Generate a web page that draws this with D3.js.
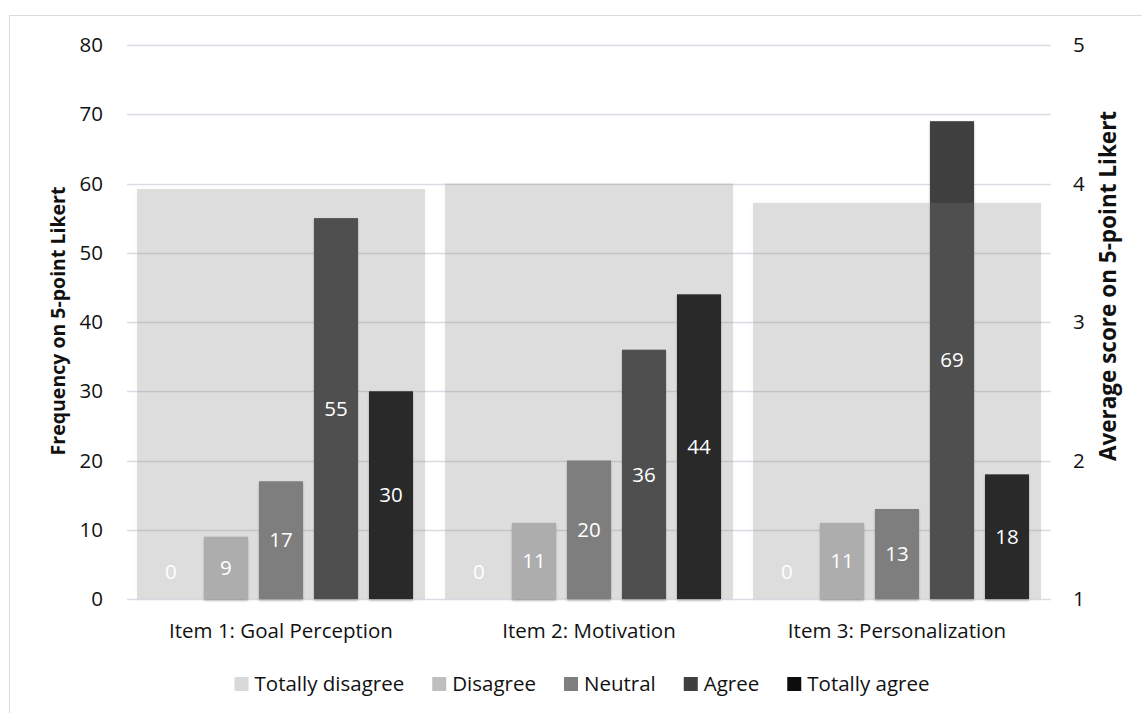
<!DOCTYPE html>
<html>
<head>
<meta charset="utf-8">
<script src="https://cdn.jsdelivr.net/npm/d3@7"></script>
<style>
  body { margin: 0; background: #fff; }
  text { font-family: "Open Sans", "Noto Sans", sans-serif; }
</style>
</head>
<body>
<svg id="chart" width="1142" height="713"></svg>
<script>
// data
const items = ["Item 1: Goal Perception", "Item 2: Motivation", "Item 3: Personalization"]
const levels = ["Totally disagree", "Disagree", "Neutral", "Agree", "Totally agree"]
const totallyDisagree = [0, 0, 0]
const disagree = [9, 11, 11]
const neutral = [17, 20, 13]
const agree = [55, 36, 69]
const totallyAgree = [30, 44, 18]
const averageScore = [3.96, 4.00, 3.86]
const freqTicks = [0, 10, 20, 30, 40, 50, 60, 70, 80]
const scoreTicks = [1, 2, 3, 4, 5]

const levelColors = ["#d9d9d9", "#bfbfbf", "#7f7f7f", "#404040", "#0d0d0d"]
const seriesValues = [totallyDisagree, disagree, neutral, agree, totallyAgree]

const svg = d3.select("#chart")
const plotLeft = 127, plotRight = 1051, plotTop = 45, plotBottom = 599
const fontSize = 20.5

// drop shadows
const defs = svg.append("defs")
defs.append("filter").attr("id", "barShadow")
    .attr("x", "-20%").attr("y", "-20%").attr("width", "140%").attr("height", "140%")
  .append("feDropShadow")
    .attr("dx", 0).attr("dy", 1.5).attr("stdDeviation", 1)
    .attr("flood-color", "#000").attr("flood-opacity", 0.3)
defs.append("filter").attr("id", "areaShadow")
    .attr("x", "-10%").attr("y", "-10%").attr("width", "120%").attr("height", "120%")
  .append("feDropShadow")
    .attr("dx", 0).attr("dy", 0).attr("stdDeviation", 2)
    .attr("flood-color", "#000").attr("flood-opacity", 0.12)

// chart frame
svg.append("rect")
    .attr("x", 9.5).attr("y", 15.5)
    .attr("width", 1300).attr("height", 900)
    .attr("fill", "none").attr("stroke", "#d9dde3")

const x0 = d3.scaleBand().domain(items).range([plotLeft, plotRight])
    .paddingInner(0.065).paddingOuter(0.0325)
const groupPad = (x0.bandwidth() - 275) / 2
const x1 = d3.scaleBand().domain(levels).range([groupPad, x0.bandwidth() - groupPad])
    .paddingInner(0.2).paddingOuter(0.1)
const y = d3.scaleLinear().domain([0, 80]).range([plotBottom, plotTop])
const y2 = d3.scaleLinear().domain([1, 5]).range([plotBottom, plotTop])

// gridlines
svg.append("g").selectAll("line")
  .data(freqTicks)
  .join("line")
    .attr("x1", plotLeft).attr("x2", plotRight)
    .attr("y1", d => Math.round(y(d)) + 0.5).attr("y2", d => Math.round(y(d)) + 0.5)
    .attr("stroke", "#d9dde3").attr("stroke-width", 1.5)

// left axis labels
const yAxis = svg.append("g")
    .attr("transform", `translate(${plotLeft - 24},0)`)
    .call(d3.axisLeft(y).tickValues(freqTicks).tickSize(0).tickPadding(0))
yAxis.select(".domain").remove()
yAxis.selectAll("text").attr("font-size", fontSize).attr("fill", "#111")
    .attr("font-family", "Open Sans")

// right axis labels
const y2Axis = svg.append("g")
    .attr("transform", `translate(${plotRight + 22},0)`)
    .call(d3.axisRight(y2).tickValues(scoreTicks).tickFormat(d3.format("d")).tickSize(0).tickPadding(0))
y2Axis.select(".domain").remove()
y2Axis.selectAll("text").attr("font-size", fontSize).attr("fill", "#111")
    .attr("font-family", "Open Sans")

// bars
const rows = items.map((item, i) => ({
  item,
  values: levels.map((level, j) => ({ item, level, value: seriesValues[j][i], color: levelColors[j] }))
}))

svg.append("g").selectAll("g")
  .data(rows)
  .join("g")
    .attr("transform", d => `translate(${x0(d.item)},0)`)
  .selectAll("rect")
  .data(d => d.values.filter(v => v.value > 0))
  .join("rect")
    .attr("x", d => x1(d.level))
    .attr("y", d => y(d.value))
    .attr("width", x1.bandwidth())
    .attr("height", d => y(0) - y(d.value))
    .attr("fill", d => d.color)
    .attr("filter", "url(#barShadow)")

// average score areas (secondary axis), translucent over the bars
svg.append("g").selectAll("rect")
  .data(items)
  .join("rect")
    .attr("x", d => x0(d))
    .attr("y", (d, i) => y2(averageScore[i]))
    .attr("width", x0.bandwidth())
    .attr("height", (d, i) => y2(1) - y2(averageScore[i]))
    .attr("fill", "#7f7f7f")
    .attr("fill-opacity", 0.24)
    .attr("filter", "url(#areaShadow)")

// data labels, drawn on top of everything
svg.append("g").selectAll("g")
  .data(rows)
  .join("g")
    .attr("transform", d => `translate(${x0(d.item)},0)`)
  .selectAll("text")
  .data(d => d.values)
  .join("text")
    .attr("x", d => x1(d.level) + x1.bandwidth() / 2)
    .attr("y", d => Math.min((y(d.value) + y(0)) / 2, y(0) - 27))
    .attr("dy", "0.35em")
    .attr("text-anchor", "middle")
    .attr("font-size", fontSize)
    .attr("fill", "#fff")
    .text(d => d.value)

// category labels
svg.append("g").selectAll("text")
  .data(items)
  .join("text")
    .attr("x", d => x0(d) + x0.bandwidth() / 2)
    .attr("y", 638)
    .attr("text-anchor", "middle")
    .attr("font-size", fontSize)
    .attr("fill", "#111")
    .text(d => d)

// axis titles
svg.append("text")
    .attr("transform", "translate(65,321) rotate(-90)")
    .attr("text-anchor", "middle")
    .attr("font-size", 19.5)
    .attr("font-weight", "bold")
    .attr("fill", "#111")
    .text("Frequency on 5-point Likert")

svg.append("text")
    .attr("transform", "translate(1116,286) rotate(-90)")
    .attr("text-anchor", "middle")
    .attr("font-size", 22.5)
    .attr("font-weight", "bold")
    .attr("fill", "#111")
    .text("Average score on 5-point Likert")

// legend
const legend = svg.append("g")
const legendItems = legend.selectAll("g")
  .data(levels)
  .join("g")
legendItems.append("rect")
    .attr("width", 14).attr("height", 14)
    .attr("y", 677)
    .attr("fill", (d, i) => levelColors[i])
legendItems.append("text")
    .attr("x", 20).attr("y", 691)
    .attr("font-size", fontSize)
    .attr("fill", "#111")
    .text(d => d)
let cursor = 0
legendItems.each(function() {
  const w = this.querySelector("text").getComputedTextLength()
  d3.select(this).attr("transform", `translate(${cursor},0)`)
  cursor += 20 + w + 28
})
const legendWidth = cursor - 28
legend.attr("transform", `translate(${582 - legendWidth / 2},0)`)
</script>
</body>
</html>
